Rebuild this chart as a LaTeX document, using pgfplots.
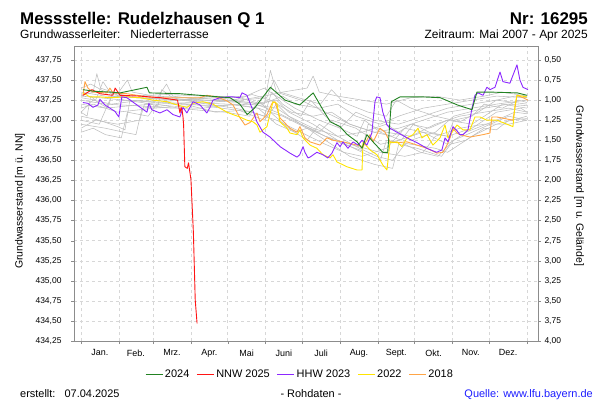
\documentclass[border=0pt]{standalone}
\usepackage{fontspec}
\setmainfont{Liberation Sans}
\usepackage{pgfplots}
\pgfplotsset{compat=1.18}
\definecolor{c24}{RGB}{34,130,34}
\definecolor{cnnw}{RGB}{255,20,20}
\definecolor{chhw}{RGB}{140,40,255}
\definecolor{c22}{RGB}{255,228,0}
\definecolor{c18}{RGB}{255,165,70}
\definecolor{cgr}{RGB}{190,190,190}
\definecolor{cax}{RGB}{140,140,140}
\definecolor{cgrid}{RGB}{215,215,215}
\definecolor{clink}{RGB}{30,30,255}
\begin{document}
\begin{tikzpicture}
\path[use as bounding box] (0,0) rectangle (600bp,-400bp);
\node[anchor=base west, font=\bfseries\fontsize{17}{17}\selectfont, inner sep=0] at (20bp,-24bp) {Messstelle: Rudelzhausen Q 1};
\node[anchor=base east, font=\bfseries\fontsize{17}{17}\selectfont, inner sep=0] at (588bp,-24bp) {Nr: 16295};
\node[anchor=base west, font=\fontsize{12}{14}\selectfont, inner sep=0] at (20bp,-38bp) {Grundwasserleiter:\ \ \ Niederterrasse};
\node[anchor=base east, font=\fontsize{12}{14}\selectfont, inner sep=0] at (588bp,-38bp) {Zeitraum: Mai 2007 - Apr 2025};
\node[rotate=90, font=\fontsize{10.5}{12}\selectfont, inner sep=0] at (20bp,-201bp) {Grundwasserstand [m ü. NN]};
\node[rotate=-90, font=\fontsize{10.5}{12}\selectfont, inner sep=0] at (579bp,-186bp) {Grundwasserstand [m u. Gelände]};
\node[anchor=base west, font=\fontsize{11}{12}\selectfont, inner sep=0] at (20bp,-397bp) {erstellt:\ \ \ 07.04.2025};
\node[anchor=base, font=\fontsize{11}{12}\selectfont, inner sep=0] at (311bp,-397bp) {- Rohdaten -};
\node[anchor=base east, font=\fontsize{11}{12}\selectfont, inner sep=0, text=clink] at (593bp,-397bp) {Quelle: www.lfu.bayern.de};
\begin{axis}[
  at={(74bp,-341bp)}, anchor=south west,
  scale only axis, width=464bp, height=295bp,
  xmin=-5.7, xmax=374, ymin=434.25, ymax=437.924,
  xtick={0,31,59,90,120,151,181,212,243,273,304,334,365},
  x tick label as interval,
  xticklabels={Jan.,Feb.,Mrz.,Apr.,Mai,Juni,Juli,Aug.,Sept.,Okt.,Nov.,Dez.},
  ytick={434.25,434.5,434.75,435,435.25,435.5,435.75,436,436.25,436.5,436.75,437,437.25,437.5,437.75},
  tick align=outside, ytick pos=left, xtick pos=bottom,
  major tick length=3bp,
  grid=major, grid style={cgrid, dashed},
  axis line style={cax}, tick style={cax},
  yticklabel style={xshift=-6bp, /pgf/number format/.cd, fixed, fixed zerofill, precision=2, use comma, 1000 sep={}},
  /pgf/number format/assume math mode=true,
  tick label style={font=\fontsize{8.5}{10}\selectfont},
  xticklabel style={yshift=-2bp, font=\fontsize{9}{10}\selectfont},
  reverse legend,
  legend columns=5,
  legend style={draw=none, fill=none, at={(0.487,-0.112)}, anchor=center, font=\fontsize{11}{13}\selectfont, /tikz/every even column/.append style={column sep=5bp}},
  legend image code/.code={\draw[#1] (0bp,0bp) -- (17bp,0bp);},
  every axis plot/.append style={line join=round},
]
% grey history years
\addplot[cgr, line width=0.55bp, forget plot] coordinates {(0,437.30) (10,437.35) (13,437.58) (16,437.40) (30,437.33) (38,437.50) (42,437.35) (60,437.30) (90,437.28) (120,437.25) (150,437.20) (155,437.62) (160,437.35) (180,437.25) (200,437.10) (220,436.95) (240,436.85) (260,436.90) (280,437.00) (300,437.10) (320,437.15) (340,437.20) (365,437.25)};
\addplot[cgr, line width=0.55bp, forget plot] coordinates {(0,437.05) (15,437.00) (30,436.92) (36,436.88) (40,437.25) (60,437.22) (70,437.45) (75,437.30) (100,437.25) (130,437.22) (160,437.15) (180,436.95) (200,436.80) (215,436.70) (230,436.62) (235,436.95) (250,436.85) (270,436.80) (290,436.95) (310,437.05) (330,437.10) (350,437.15) (365,437.10)};
\addplot[cgr, line width=0.55bp, forget plot] coordinates {(0,436.95) (20,436.90) (35,436.85) (45,436.82) (50,437.15) (80,437.20) (110,437.18) (140,437.20) (160,437.25) (170,437.10) (190,436.95) (210,436.75) (230,436.60) (245,436.50) (250,436.75) (270,436.70) (290,436.65) (300,436.60) (320,436.80) (340,436.95) (365,437.05)};
\addplot[cgr, line width=0.55bp, forget plot] coordinates {(0,437.40) (8,437.45) (20,437.35) (40,437.30) (70,437.32) (100,437.30) (130,437.25) (150,437.30) (165,437.35) (185,437.40) (190,437.55) (195,437.35) (210,437.30) (230,437.25) (250,437.20) (270,437.28) (290,437.30) (310,437.25) (330,437.30) (345,437.35) (365,437.30)};
\addplot[cgr, line width=0.55bp, forget plot] coordinates {(0,437.20) (20,437.15) (40,437.18) (60,437.20) (90,437.22) (120,437.20) (145,437.15) (165,437.05) (185,436.90) (200,436.75) (220,436.55) (240,436.45) (255,436.40) (260,436.70) (275,436.65) (295,436.55) (305,436.75) (320,436.85) (335,436.95) (350,437.05) (365,437.00)};
\addplot[cgr, line width=0.55bp, forget plot] coordinates {(0,437.10) (10,437.25) (25,437.20) (50,437.25) (80,437.25) (110,437.28) (135,437.30) (150,437.40) (160,437.30) (175,437.15) (195,437.00) (212,436.90) (225,437.10) (240,437.00) (260,436.95) (280,437.05) (300,437.15) (320,437.20) (340,437.25) (365,437.20)};
\addplot[cgr, line width=0.55bp, forget plot] coordinates {(0,437.30) (15,437.28) (35,437.25) (60,437.23) (90,437.20) (115,437.15) (140,437.10) (160,437.00) (180,436.85) (200,436.70) (215,436.60) (230,436.55) (250,436.65) (265,436.90) (280,436.85) (300,436.80) (320,436.90) (340,437.10) (360,437.15) (365,437.10)};
\addplot[cgr, line width=0.55bp, forget plot] coordinates {(0,437.00) (15,436.95) (25,437.30) (45,437.28) (80,437.25) (105,437.22) (125,437.25) (140,437.32) (155,437.25) (172,437.10) (190,437.05) (205,437.10) (220,436.95) (240,436.85) (255,436.80) (270,436.95) (285,436.90) (300,437.00) (320,436.95) (345,437.20) (365,437.15)};
\addplot[cgr, line width=0.55bp, forget plot] coordinates {(0,437.25) (20,437.20) (45,437.18) (75,437.15) (100,437.15) (125,437.20) (145,437.15) (160,436.95) (175,436.85) (185,436.90) (200,436.80) (220,436.70) (245,436.60) (265,436.55) (280,436.60) (290,436.80) (310,436.90) (330,436.95) (350,436.95) (365,437.00)};
\addplot[cgr, line width=0.55bp, forget plot] coordinates {(0,436.90) (12,437.00) (30,436.95) (48,437.00) (52,437.20) (80,437.25) (110,437.30) (130,437.28) (148,437.20) (165,437.30) (175,437.20) (195,437.15) (210,437.20) (225,437.05) (245,436.95) (260,437.05) (280,437.15) (300,437.20) (320,437.25) (340,437.30) (365,437.28)};
\addplot[cgr, line width=0.55bp, forget plot] coordinates {(0,437.35) (20,437.30) (50,437.28) (85,437.26) (120,437.24) (140,437.22) (160,437.10) (180,436.95) (195,436.85) (205,437.00) (225,436.90) (245,436.70) (260,436.75) (280,436.85) (300,436.70) (315,436.85) (340,437.00) (355,437.10) (365,437.08)};
\addplot[cgr, line width=0.55bp, forget plot] coordinates {(0,437.15) (10,437.20) (30,437.10) (60,437.15) (90,437.18) (110,437.10) (130,437.12) (150,437.00) (160,437.20) (170,437.05) (190,436.90) (210,436.80) (230,436.85) (250,436.95) (270,436.75) (290,436.85) (305,437.05) (330,437.15) (350,437.20) (365,437.18)};
\addplot[cgr, line width=0.55bp, forget plot] coordinates {(0,437.10) (5,437.05) (8,437.30) (14,437.22) (22,437.15) (26,437.35) (35,437.25) (50,437.22) (63,437.18) (66,437.38) (75,437.28) (95,437.22) (112,437.18) (126,437.15) (140,437.10) (150,437.05) (156,437.35) (165,437.20) (180,437.05) (188,437.25) (200,437.05) (212,436.90) (226,436.80) (232,437.00) (245,436.85) (262,436.75) (272,436.95) (285,436.85) (300,436.80) (305,437.00) (320,437.05) (330,437.20) (345,437.15) (358,437.25) (365,437.22)};
\addplot[cgr, line width=0.55bp, forget plot] coordinates {(0,437.28) (12,437.25) (18,437.48) (25,437.32) (45,437.28) (72,437.26) (100,437.24) (132,437.25) (152,437.28) (158,437.50) (163,437.35) (178,437.28) (196,437.20) (205,437.38) (215,437.22) (235,437.10) (250,437.05) (258,437.25) (270,437.15) (290,437.05) (310,436.98) (325,437.10) (340,437.25) (355,437.30) (365,437.28)};
\addplot[cgr, line width=0.55bp, forget plot] coordinates {(0,436.85) (10,436.90) (20,436.82) (33,436.78) (38,437.10) (55,437.05) (62,437.20) (80,437.15) (100,437.12) (118,437.10) (138,437.05) (145,437.25) (155,437.10) (170,436.90) (185,436.75) (195,436.95) (210,436.80) (228,436.65) (242,436.55) (255,436.50) (265,436.70) (278,436.60) (292,436.55) (302,436.70) (315,436.75) (330,436.90) (340,436.88) (350,437.00) (365,437.02)};
% 2018
\addplot[c18, line width=0.9bp] coordinates {(1.6,437.31) (3.3,437.48) (5.7,437.40) (9.8,437.35) (21.3,437.34) (23.7,437.40) (26.2,437.34) (37.6,437.33) (54,437.29) (64.6,437.28) (81,437.28) (97.4,437.28) (103.1,437.31) (111.3,437.29) (119.5,437.24) (124.4,437.19) (130.1,437.03) (134.2,436.94) (138.3,436.97) (144,437.09) (146.5,436.98) (152.2,437.07) (156.3,437.21) (158.8,437.23) (162.8,437.03) (171,436.90) (176.8,436.85) (179.2,436.92) (183.3,436.78) (187.4,436.73) (195.6,436.69) (201.3,436.78) (206.2,436.75) (214.4,436.73) (225.9,436.69) (230.8,436.67) (236.5,436.82) (239,436.73) (244.7,436.90) (248.8,436.85) (252.9,436.73) (258.6,436.72) (266.8,436.73) (275,436.69) (283.1,436.65) (291.3,436.59) (296.2,436.60) (299.5,436.69) (302,436.78) (304.4,436.90) (307.7,436.84) (310.1,436.82) (318.3,436.79) (329,436.82) (334.7,436.84) (336.3,437.04) (340.4,437.04) (353.5,437.00) (356.8,437.31) (361.7,437.28) (365.8,437.25)};
\addlegendentry{2018}
% 2022
\addplot[c22, line width=0.9bp] coordinates {(1.6,437.34) (7.4,437.29) (15.5,437.29) (23.7,437.28) (37.6,437.29) (48.3,437.28) (58.9,437.25) (70.4,437.23) (78.6,437.19) (86.7,437.16) (91.7,437.21) (99.8,437.23) (108,437.20) (113.7,437.15) (119.5,437.10) (124.4,437.07) (130,437.04) (135.8,437.00) (140.8,436.98) (144,436.94) (146.5,436.85) (152.2,436.92) (157.1,437.23) (160.4,437.21) (162.8,436.98) (168.6,436.90) (171,436.84) (176.8,436.82) (179.2,436.88) (181.7,436.78) (187.4,436.69) (193.1,436.65) (198,436.57) (203.8,436.53) (206.2,436.57) (209.5,436.48) (217.7,436.42) (225.9,436.38) (230,436.38) (230.8,436.73) (236.5,436.63) (242.2,436.57) (247.1,436.44) (250.4,436.38) (252.9,436.73) (255.3,436.72) (258.6,436.73) (262.7,436.67) (266.8,436.78) (271.7,436.82) (275.8,436.90) (279,436.78) (283.1,436.82) (288,436.69) (293.8,436.78) (297.9,436.94) (300.3,436.78) (303.6,436.85) (307.7,436.94) (312.6,436.88) (318.3,436.88) (322.4,437.04) (326.5,437.04) (332.2,437.00) (340.4,437.00) (345.3,436.97) (353.5,436.92) (355.2,437.19) (356.8,437.31) (365,437.29)};
\addlegendentry{2022}
% HHW 2023
\addplot[chhw, line width=0.9bp] coordinates {(1.6,437.22) (5.7,437.21) (9.8,437.16) (13.9,437.19) (15.5,437.26) (19.6,437.19) (23.7,437.15) (27.8,437.11) (31,437.04) (33.4,437.29) (37.6,437.28) (45.8,437.19) (54,437.10) (55.6,437.21) (58,437.13) (64.6,437.09) (70.4,437.13) (75.3,437.07) (81,437.04) (83.5,437.16) (86.7,437.09) (91.7,437.23) (97.4,437.19) (103,437.09) (105.6,437.16) (108,437.25) (113.7,437.28) (119.5,437.29) (124.4,437.29) (130,437.28) (131.8,437.34) (135.8,437.31) (140,437.15) (144,436.98) (149,436.85) (154.7,436.79) (163,436.67) (171,436.59) (176.8,436.54) (179,436.57) (181.7,436.67) (183.3,436.60) (185.8,436.53) (187.4,436.54) (193,436.60) (198,436.57) (202,436.53) (205.4,436.59) (209.5,436.72) (212,436.67) (214.4,436.73) (218.5,436.65) (222.6,436.73) (226.7,436.69) (230,436.75) (234,436.69) (238,436.84) (240.6,437.23) (242,437.29) (244.7,437.28) (247,437.10) (250.4,436.94) (252.9,436.90) (258.6,436.85) (266.8,436.78) (275,436.72) (283,436.65) (291,436.60) (295.4,436.63) (297.9,436.78) (300.3,436.73) (304.4,436.92) (307.7,436.87) (310,436.82) (312.6,436.82) (316.7,436.88) (320,437.15) (322.4,437.31) (324.9,437.34) (329,437.31) (332.2,437.41) (334.7,437.38) (338.8,437.41) (342.9,437.60) (345.3,437.48) (351,437.46) (356.8,437.69) (359.2,437.50) (361.7,437.41) (365.8,437.38)};
\addlegendentry{HHW 2023}
% NNW 2025
\addplot[cnnw, line width=0.9bp] coordinates {(1.6,437.31) (9,437.38) (15.5,437.33) (26,437.31) (28,437.40) (32,437.31) (48,437.30) (65,437.28) (79,437.25) (81,437.09) (82,437.16) (83,437.10) (83.5,437.04) (84,436.94) (85,436.42) (87,436.40) (88,436.47) (90,436.26) (92,435.60) (93.5,434.76) (95,434.47)};
\addlegendentry{NNW 2025}
% 2024
\addplot[c24, line width=0.9bp] coordinates {(1.6,437.38) (11,437.36) (24,437.35) (32,437.34) (54,437.41) (56,437.34) (81,437.33) (97,437.31) (122,437.28) (130,437.20) (136,437.07) (142,437.15) (155,437.41) (167,437.25) (179,437.19) (190,437.34) (198,437.13) (204,436.98) (212,436.92) (218,436.82) (226,436.73) (230,436.65) (234,436.82) (239,436.73) (247,436.60) (251,436.60) (254,437.23) (261,437.29) (280,437.29) (294,437.28) (308,437.19) (320,437.13) (324,437.35) (335,437.35) (357,437.34) (365,437.31)};
\addlegendentry{2024}
\end{axis}
\begin{axis}[
  at={(74bp,-341bp)}, anchor=south west,
  scale only axis, width=464bp, height=295bp,
  xmin=-5.7, xmax=374, ymin=0.326, ymax=4.0, y dir=reverse,
  axis x line=none, axis y line*=right,
  ytick={0.5,0.75,1,1.25,1.5,1.75,2,2.25,2.5,2.75,3,3.25,3.5,3.75,4},
  tick align=outside, major tick length=3bp,
  axis line style={cax}, tick style={cax},
  yticklabel style={/pgf/number format/.cd, fixed, fixed zerofill, precision=2, use comma, 1000 sep={}},
  /pgf/number format/assume math mode=true,
  tick label style={font=\fontsize{8.5}{10}\selectfont},
]
\addplot[draw=none] coordinates {(0,1) (365,1)};
\end{axis}
\end{tikzpicture}
\end{document}
